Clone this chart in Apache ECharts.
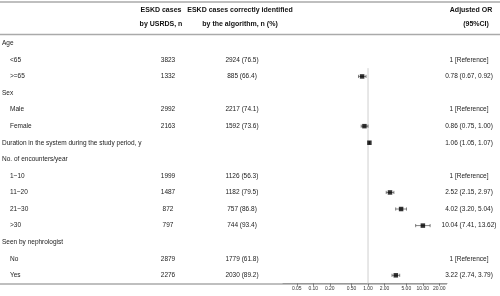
<!DOCTYPE html>
<html>
<head>
<meta charset="utf-8">
<script src="https://cdn.jsdelivr.net/npm/echarts@6/dist/echarts.min.js"></script>
<style>
  html, body { margin: 0; padding: 0; background: #fff; }
  #chart { width: 500px; height: 296px; }
</style>
</head>
<body>
<div id="chart"></div>
<script>
// table rows, top to bottom
const rowLabels = ['Age', '<65', '>=65', 'Sex', 'Male', 'Female',
  'Duration in the system during the study period, y', 'No. of encounters/year',
  '1~10', '11~20', '21~30', '>30', 'Seen by nephrologist', 'No', 'Yes']
const groupRows = ['Age', 'Sex', 'Duration in the system during the study period, y',
  'No. of encounters/year', 'Seen by nephrologist']
const usrdsCases = ['', '3823', '1332', '', '2992', '2163', '', '', '1999', '1487', '872', '797', '', '2879', '2276']
const identified = ['', '2924 (76.5)', '885 (66.4)', '', '2217 (74.1)', '1592 (73.6)', '', '',
  '1126 (56.3)', '1182 (79.5)', '757 (86.8)', '744 (93.4)', '', '1779 (61.8)', '2030 (89.2)']
// adjusted OR and 95% CI (null = reference / no estimate)
const orEst = [null, null, 0.78, null, null, 0.86, 1.06, null, null, 2.52, 4.02, 10.04, null, null, 3.22]
const orLow = [null, null, 0.67, null, null, 0.75, 1.05, null, null, 2.15, 3.20, 7.41, null, null, 2.74]
const orHigh = [null, null, 0.92, null, null, 1.00, 1.07, null, null, 2.97, 5.04, 13.62, null, null, 3.79]
const orText = ['', '1 [Reference]', '0.78 (0.67, 0.92)', '', '1 [Reference]', '0.86 (0.75, 1.00)',
  '1.06 (1.05, 1.07)', '', '1 [Reference]', '2.52 (2.15, 2.97)', '4.02 (3.20, 5.04)',
  '10.04 (7.41, 13.62)', '', '1 [Reference]', '3.22 (2.74, 3.79)']
const xTicks = [0.05, 0.1, 0.2, 0.5, 1, 2, 5, 10, 20]

const FONT = 'Liberation Sans, Arial, sans-serif'
const GRID_LEFT = 283
const GRID_WIDTH = 164

let points = []
let bars = []
orEst.forEach((v, i) => {
  if (v === null) return
  points.push([v, i])
  bars.push([orLow[i], orHigh[i], i])
})
const firstRow = orEst.findIndex(v => v !== null)

function textAxis (data, offset, position, align, formatter) {
  return {
    type: 'category',
    gridIndex: 0,
    inverse: true,
    position: position,
    offset: offset,
    data: data,
    axisLine: { show: false },
    axisTick: { show: false },
    splitLine: { show: false },
    axisLabel: {
      interval: 0,
      margin: 0,
      align: align,
      fontFamily: FONT,
      fontSize: 6.5,
      color: '#222',
      formatter: formatter,
      rich: {
        sub: { padding: [0, 0, 0, 8], fontFamily: FONT, fontSize: 6.5, color: '#222' }
      }
    }
  }
}

function headerText (x, y, text) {
  return {
    type: 'text',
    x: x,
    y: y,
    style: {
      text: text,
      fontFamily: FONT,
      fontSize: 7,
      fontWeight: 'bold',
      fill: '#111',
      align: 'center',
      verticalAlign: 'middle'
    }
  }
}

function hLine (y, x1, x2) {
  return {
    type: 'line',
    shape: { x1: x1, y1: y, x2: x2, y2: y },
    style: { stroke: '#aaa', lineWidth: 1.5 }
  }
}

const option = {
  animation: false,
  backgroundColor: '#fff',
  grid: {
    left: GRID_LEFT,
    top: 35,
    width: GRID_WIDTH,
    height: 248.6,
    outerBoundsMode: 'none'
  },
  xAxis: {
    type: 'log',
    min: 0.028,
    max: 27.7,
    axisLine: { show: true, lineStyle: { color: '#999', width: 1 } },
    axisTick: { show: true, length: 2.5, lineStyle: { color: '#444', width: 0.6 }, customValues: xTicks },
    axisLabel: {
      customValues: xTicks,
      margin: 3,
      fontFamily: FONT,
      fontSize: 5,
      color: '#333',
      formatter: v => Number(v).toFixed(2)
    },
    splitLine: { show: false }
  },
  yAxis: [
    {
      type: 'category',
      inverse: true,
      data: rowLabels,
      axisLine: { show: false },
      axisTick: { show: false },
      axisLabel: { show: false },
      splitLine: { show: false }
    },
    textAxis(rowLabels, GRID_LEFT - 2, 'left', 'left',
      v => groupRows.includes(v) ? v : '{sub|' + v + '}'),
    textAxis(usrdsCases, GRID_LEFT - 168, 'left', 'center'),
    textAxis(identified, GRID_LEFT - 242, 'left', 'center'),
    textAxis(orText, 469 - GRID_LEFT - GRID_WIDTH, 'right', 'center')
  ],
  series: [
    {
      // reference line at OR = 1
      type: 'custom',
      data: [[1, firstRow]],
      silent: true,
      z: 1,
      renderItem: (params, api) => {
        const p = api.coord([api.value(0), api.value(1)])
        const band = api.size([0, 1])[1]
        const cs = params.coordSys
        return {
          type: 'line',
          shape: { x1: p[0], y1: p[1] - band / 2, x2: p[0], y2: cs.y + cs.height },
          style: { stroke: '#cfcfcf', lineWidth: 1 }
        }
      }
    },
    {
      // 95% CI whiskers
      type: 'custom',
      data: bars,
      silent: true,
      z: 2,
      renderItem: (params, api) => {
        const a = api.coord([api.value(0), api.value(2)])
        const b = api.coord([api.value(1), api.value(2)])
        const h = 1.6
        const st = { stroke: '#333', lineWidth: 0.6 }
        return {
          type: 'group',
          children: [
            { type: 'line', shape: { x1: a[0], y1: a[1], x2: b[0], y2: b[1] }, style: st },
            { type: 'line', shape: { x1: a[0], y1: a[1] - h, x2: a[0], y2: a[1] + h }, style: st },
            { type: 'line', shape: { x1: b[0], y1: b[1] - h, x2: b[0], y2: b[1] + h }, style: st }
          ]
        }
      }
    },
    {
      type: 'scatter',
      data: points,
      symbol: 'rect',
      symbolSize: 4.5,
      silent: true,
      z: 3,
      itemStyle: { color: '#000' }
    }
  ],
  graphic: [
    hLine(2, 0, 500),
    hLine(34.5, 0, 500),
    hLine(284, 0, 447),
    headerText(161, 10, 'ESKD cases'),
    headerText(161, 24, 'by USRDS, n'),
    headerText(240, 10, 'ESKD cases correctly identified'),
    headerText(240, 24, 'by the algorithm, n (%)'),
    headerText(471, 10, 'Adjusted OR'),
    headerText(476, 24, '(95%CI)')
  ]
}

const chart = echarts.init(document.getElementById('chart'), null, { renderer: 'canvas' })
chart.setOption(option)
window.addEventListener('resize', () => {
  chart && chart.resize()
})
</script>
</body>
</html>
